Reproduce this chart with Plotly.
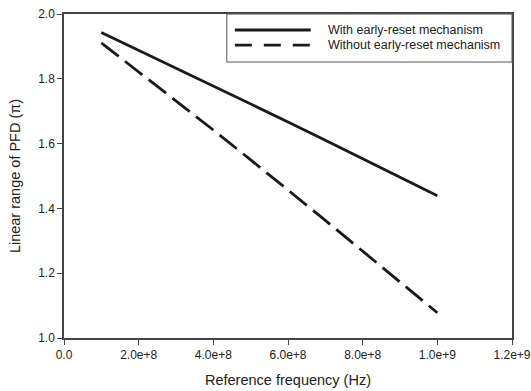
import plotly.graph_objects as go

freq = [1e8, 2e8, 3e8, 4e8, 5e8, 6e8, 7e8, 8e8, 9e8, 1e9]
with_reset = [1.943, 1.888, 1.834, 1.779, 1.723, 1.667, 1.610, 1.553, 1.496, 1.439]
without_reset = [1.911, 1.822, 1.733, 1.642, 1.550, 1.457, 1.363, 1.268, 1.173, 1.078]
series_names = ["With early-reset mechanism", "Without early-reset mechanism"]
x_ticks = [0, 2e8, 4e8, 6e8, 8e8, 1e9, 1.2e9]
x_tick_labels = ["0.0", "2.0e+8", "4.0e+8", "6.0e+8", "8.0e+8", "1.0e+9", "1.2e+9"]
y_ticks = [1.0, 1.2, 1.4, 1.6, 1.8, 2.0]
y_tick_labels = ["1.0", "1.2", "1.4", "1.6", "1.8", "2.0"]

FONT = "Liberation Sans, Arial, sans-serif"
LINE = "#1a1a1a"
TXT = "#222"

fig = go.Figure()
fig.add_trace(go.Scatter(x=freq, y=with_reset, mode="lines", name=series_names[0],
                         line=dict(color=LINE, width=2.8)))
fig.add_trace(go.Scatter(x=freq, y=without_reset, mode="lines", name=series_names[1],
                         line=dict(color=LINE, width=2.8, dash="22px,8px")))

axis_common = dict(showgrid=False, zeroline=False, showline=True, linecolor="#444",
                   linewidth=1.5, mirror=True, ticks="outside", ticklen=5,
                   tickcolor="#444", tickwidth=1.2, automargin=False,
                   ticklabeloverflow="allow",
                   tickfont=dict(family=FONT, size=12, color=TXT))

fig.update_xaxes(range=[0, 1.2e9], tickvals=x_ticks, ticktext=x_tick_labels,
                 title=dict(text="Reference frequency (Hz)", font=dict(family=FONT, size=14.5, color=TXT),
                            standoff=14),
                 **axis_common)
fig.update_yaxes(range=[1.0, 2.0], tickvals=y_ticks, ticktext=y_tick_labels,
                 title=dict(text="Linear range of PFD (π)", font=dict(family=FONT, size=14.5, color=TXT),
                            standoff=14),
                 **axis_common)

# custom legend box (paper coordinates)
L, R, T, B = 64, 18.5, 14, 53.3
pw = 531 - L - R
ph = 391 - T - B
def px(xp):
    return (xp - L) / pw
def py(yp):
    return (391 - B - yp) / ph

shapes = [
    dict(type="rect", xref="paper", yref="paper", x0=px(227), x1=1.0, y0=py(62), y1=1.0,
         line=dict(color="#555", width=1), fillcolor="white", layer="above"),
    dict(type="line", xref="paper", yref="paper", x0=px(235), x1=px(311), y0=py(30), y1=py(30),
         line=dict(color=LINE, width=2.8), layer="above"),
    dict(type="line", xref="paper", yref="paper", x0=px(235), x1=px(311), y0=py(45), y1=py(45),
         line=dict(color=LINE, width=2.8, dash="17px,12px"), layer="above"),
]
annotations = [
    dict(xref="paper", yref="paper", x=px(326), y=py(30), xanchor="left", yanchor="middle",
         text=series_names[0], showarrow=False, font=dict(family=FONT, size=12.5, color=TXT)),
    dict(xref="paper", yref="paper", x=px(326), y=py(45), xanchor="left", yanchor="middle",
         text=series_names[1], showarrow=False, font=dict(family=FONT, size=12.5, color=TXT)),
]

fig.update_layout(width=531, height=391, margin=dict(l=L, r=R, t=T, b=B, autoexpand=False),
                  plot_bgcolor="white", paper_bgcolor="white", showlegend=False,
                  shapes=shapes, annotations=annotations, font=dict(family=FONT))

fig.write_html("out.html")
